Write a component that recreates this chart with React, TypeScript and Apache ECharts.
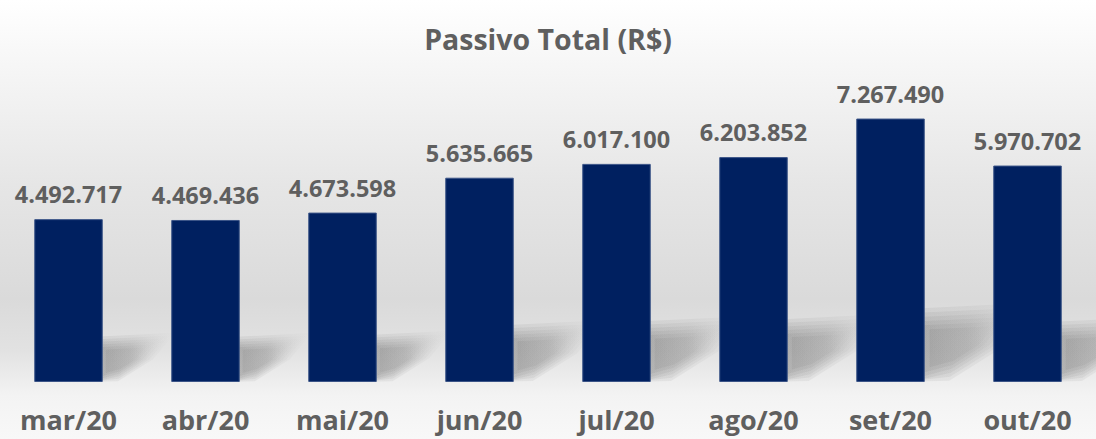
import React, { useEffect, useRef } from "react";
import * as echarts from "echarts";

const categories = ["mar/20", "abr/20", "mai/20", "jun/20", "jul/20", "ago/20", "set/20", "out/20"];
const values = [4492717, 4469436, 4673598, 5635665, 6017100, 6203852, 7267490, 5970702];
const titleText = "Passivo Total (R$)";

const fmt = (v: number) => String(Math.round(v)).replace(/\B(?=(\d{3})+(?!\d))/g, ".");

// shadow outline, relative to bar height (x to the right of bar's right edge, y upward)
const SHAPE: number[][] = [
  [-0.05, 0],
  [-0.05, 0.24],
  [0.36, 0.26],
  [0.26, 0.14],
  [0.1, 0.04],
];
const LAYERS = [0.6, 0.75, 0.9, 1.05, 1.2, 1.35];

export default function App() {
  const ref = useRef<HTMLDivElement>(null);
  useEffect(() => {
    if (!ref.current) return;
    const chart = echarts.init(ref.current, undefined, { renderer: "svg" });
    const font = "'Open Sans', 'Noto Sans', sans-serif";
    const txt = "#5f5f5f";
    chart.setOption({
      animation: false,
      title: {
        text: titleText,
        left: "center",
        top: 19,
        textStyle: { fontFamily: font, fontWeight: "bold", fontSize: 28.5, color: txt },
      },
      grid: { left: -9, right: -6, top: 92, bottom: 57 },
      xAxis: {
        type: "category",
        data: categories,
        axisLine: { show: false },
        axisTick: { show: false },
        axisLabel: {
          fontFamily: font,
          fontWeight: "bold",
          fontSize: 27,
          lineHeight: 27,
          color: txt,
          margin: 24,
        },
      },
      yAxis: { type: "value", min: 0, max: 8000000, show: false, splitLine: { show: false } },
      series: [
        {
          type: "custom",
          z: 1,
          silent: true,
          data: values.map((v, i) => [i, v]),
          renderItem: (params: any, api: any) => {
            const idx = api.value(0);
            const val = api.value(1);
            const p0 = api.coord([idx, 0]);
            const p1 = api.coord([idx, val]);
            const band = api.size([1, 0])[0];
            const xR = p0[0] + band * 0.25;
            const y0 = p0[1];
            const h = y0 - p1[1];
            const cx = 0.12;
            const cy = 0.14;
            const children = LAYERS.map((s) => ({
              type: "polygon",
              shape: {
                points: SHAPE.map(([px, py]) => [
                  xR + (cx + (px - cx) * s) * h,
                  Math.min(y0, y0 - (cy + (py - cy) * s) * h),
                ]),
              },
              style: {
                fill: new echarts.graphic.LinearGradient(0, 0, 1, 0, [
                  { offset: 0, color: "rgba(100,100,100,0.11)" },
                  { offset: 0.55, color: "rgba(100,100,100,0.07)" },
                  { offset: 1, color: "rgba(100,100,100,0.0)" },
                ]),
              },
            }));
            return { type: "group", children };
          },
        },
        {
          type: "bar",
          z: 2,
          data: values,
          barWidth: "50%",
          itemStyle: { color: "#002060", borderColor: "#3b5487", borderWidth: 1 },
          label: {
            show: true,
            position: "top",
            distance: 13,
            formatter: (p: any) => fmt(p.value),
            fontFamily: font,
            fontWeight: "bold",
            fontSize: 23.5,
            color: txt,
          },
        },
      ],
    });
    return () => chart.dispose();
  }, []);
  return (
    <div
      ref={ref}
      style={{
        position: "fixed",
        left: 0,
        top: 0,
        width: 1096,
        height: 439,
        background:
          "linear-gradient(to bottom, #ffffff 0%, #f6f6f6 15%, #e6e6e6 42%, #dadada 68%, #e2e2e2 80%, #f3f3f3 90%, #f8f8f8 100%)",
      }}
    />
  );
}
